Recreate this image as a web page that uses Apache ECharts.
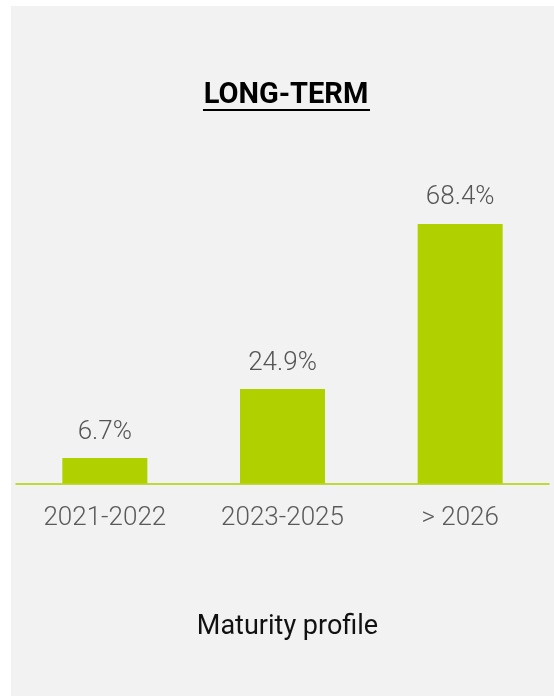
<!DOCTYPE html>
<html>
<head>
<meta charset="utf-8">
<script src="https://cdn.jsdelivr.net/npm/echarts@6/dist/echarts.min.js"></script>
<style>
html,body{margin:0;padding:0;background:#ffffff;}
#chart{width:554px;height:696px;}
</style>
</head>
<body>
<div id="chart"></div>
<script>
var categories = ['2021-2022', '2023-2025', '> 2026'];
var values = [6.7, 24.9, 68.4];
var titleText = 'LONG-TERM';
var axisTitle = 'Maturity profile';

var chart = echarts.init(document.getElementById('chart'), null, {renderer: 'canvas'});
chart.setOption({
  backgroundColor: '#ffffff',
  animation: false,
  grid: {left: 16, right: 5, top: 149.6, bottom: 696 - 483.5, containLabel: false},
  xAxis: {
    type: 'category',
    data: categories,
    axisLine: {show: true, lineStyle: {color: '#b0d000', width: 1.5}},
    axisTick: {show: false},
    axisLabel: {margin: 22, color: '#5a5a5a', fontFamily: 'Roboto', fontWeight: 300, fontSize: 26}
  },
  yAxis: {
    type: 'value', min: 0, max: 88,
    show: false, splitLine: {show: false}
  },
  series: [{
    type: 'bar',
    data: values,
    barWidth: 85,
    itemStyle: {color: '#b0d000'},
    label: {
      show: true, position: 'top', distance: 13,
      formatter: function (p) { return p.value.toFixed(1) + '%'; },
      color: '#555555', fontFamily: 'Roboto', fontWeight: 300, fontSize: 26
    }
  }],
  graphic: [
    {type: 'rect', z: -100, silent: true, shape: {x: 11, y: 6, width: 543, height: 690}, style: {fill: '#f2f2f2'}},
    {type: 'text', z: 100, x: 286, y: 96, style: {text: titleText, textAlign: 'center', textVerticalAlign: 'middle', fill: '#000000', font: 'bold 29px Roboto'}},
    {type: 'rect', z: 100, shape: {x: 203, y: 109, width: 167, height: 2}, style: {fill: '#000000'}},
    {type: 'text', z: 100, x: 287.5, y: 627, style: {text: axisTitle, textAlign: 'center', textVerticalAlign: 'middle', fill: '#111111', font: '27px Roboto'}}
  ]
});
</script>
</body>
</html>
